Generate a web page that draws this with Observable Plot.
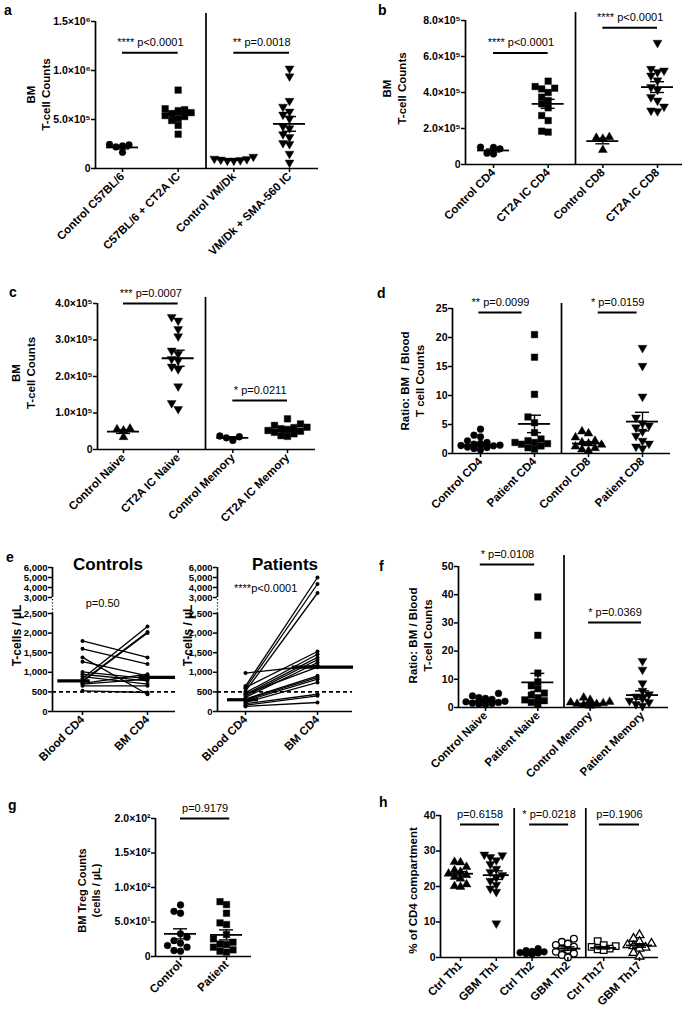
<!DOCTYPE html>
<html><head><meta charset="utf-8">
<script src="https://cdn.jsdelivr.net/npm/d3@7"></script>
<script src="https://cdn.jsdelivr.net/npm/@observablehq/plot@0.6"></script>
<style>
body{margin:0;background:#fff;}
#fig{position:relative;width:687px;height:1020px;overflow:hidden;font-family:"Liberation Sans",Arial,Helvetica,sans-serif;background:#fff;}
#fig svg{position:absolute;overflow:visible;}
.letter{position:absolute;font-weight:bold;font-size:14px;line-height:1;color:#000;}
</style></head><body><div id="fig"></div>
<script>
// ---------------- DATA ----------------
// Panel a
const aCats = ["Control C57BL/6", "C57BL/6 + CT2A IC", "Control VM/Dk", "VM/Dk + SMA-560 IC"];
const aValues = [
  [2.45e5, 2.4e5, 2.3e5, 2.2e5, 1.65e5],
  [8.0e5, 6.1e5, 6.0e5, 5.9e5, 5.7e5, 5.6e5, 5.4e5, 5.3e5, 5.1e5, 4.9e5, 4.4e5, 3.5e5],
  [1.2e5, 1.0e5, 0.95e5, 0.9e5, 0.85e5, 0.8e5, 0.8e5],
  [1.02e6, 0.94e6, 0.69e6, 0.63e6, 0.58e6, 0.55e6, 0.51e6, 0.43e6, 0.41e6, 0.35e6, 0.32e6, 0.26e6, 0.25e6, 0.15e6, 0.06e6]
];
const aMeans = [2.15e5, 5.55e5, 0.9e5, 4.55e5];
const aSems = [0.15e5, 0.3e5, 0.05e5, 0.75e5];
const aTicks = [0, 5e5, 1e6, 1.5e6];
const aTickLabels = ["0", "5.0×10⁵", "1.0×10⁶", "1.5×10⁶"];
const aSig = [{x1: 1, x2: 2, y: 1.18e6, label: "**** p<0.0001"}, {x1: 3, x2: 4, y: 1.18e6, label: "** p=0.0018"}];

// Panel b
const bCats = ["Control CD4", "CT2A IC CD4", "Control CD8", "CT2A IC CD8"];
const bValues = [
  [0.96e5, 0.95e5, 0.87e5, 0.63e5, 0.59e5],
  [4.63e5, 4.33e5, 4.24e5, 4.2e5, 4.0e5, 3.74e5, 3.55e5, 3.37e5, 3.15e5, 2.72e5, 2.44e5, 1.85e5, 1.8e5],
  [1.52e5, 1.48e5, 1.43e5, 0.81e5],
  [6.76e5, 5.31e5, 5.22e5, 5.13e5, 4.94e5, 4.67e5, 4.3e5, 4.15e5, 3.74e5, 3.55e5, 3.22e5, 3.0e5, 2.96e5]
];
const bMeans = [0.78e5, 3.37e5, 1.3e5, 4.3e5];
const bSems = [0.08e5, 0.25e5, 0.15e5, 0.3e5];
const bTicks = [0, 2e5, 4e5, 6e5, 8e5];
const bTickLabels = ["0", "2.0×10⁵", "4.0×10⁵", "6.0×10⁵", "8.0×10⁵"];
const bSig = [{x1: 1, x2: 2, y: 6.2e5, label: "**** p<0.0001"}, {x1: 3, x2: 4, y: 7.6e5, label: "**** p<0.0001"}];

// Panel c
const cCats = ["Control Naive", "CT2A IC Naive", "Control Memory", "CT2A IC Memory"];
const cValues = [
  [0.57e5, 0.55e5, 0.52e5, 0.34e5],
  [3.63e5, 3.53e5, 3.3e5, 3.1e5, 2.71e5, 2.62e5, 2.48e5, 2.44e5, 2.27e5, 2.2e5, 1.73e5, 1.27e5, 1.11e5],
  [0.37e5, 0.35e5, 0.32e5, 0.25e5],
  [0.84e5, 0.7e5, 0.66e5, 0.61e5, 0.6e5, 0.57e5, 0.55e5, 0.52e5, 0.5e5, 0.47e5, 0.43e5, 0.38e5, 0.36e5]
];
const cMeans = [0.49e5, 2.5e5, 0.32e5, 0.52e5];
const cSems = [0.05e5, 0.22e5, 0.03e5, 0.04e5];
const cTicks = [0, 1e5, 2e5, 3e5, 4e5];
const cTickLabels = ["0", "1.0×10⁵", "2.0×10⁵", "3.0×10⁵", "4.0×10⁵"];
const cSig = [{x1: 1, x2: 2, y: 4.0e5, label: "*** p=0.0007"}, {x1: 3, x2: 4, y: 1.34e5, label: "* p=0.0211"}];

// Panel d
const dCats = ["Control CD4", "Patient CD4", "Control CD8", "Patient CD8"];
const dValues = [
  [4.2, 3.16, 2.87, 2.18, 1.9, 1.72, 1.6, 1.5, 1.44, 1.38, 1.32, 1.03, 0.86, 0.63, 1.1],
  [20.5, 16.6, 10.2, 6.3, 5.3, 3.6, 2.5, 2.2, 1.9, 1.9, 1.7, 1.6, 1.3, 1.0, 0.75],
  [3.8, 3.45, 2.76, 2.18, 1.9, 1.72, 1.5, 1.2, 0.92, 0.69, 0.46],
  [18.2, 15.1, 9.8, 6.2, 5.2, 4.8, 4.5, 3.8, 3.05, 2.2, 1.7, 1.2, 0.9]
];
const dMeans = [1.44, 5.1, 1.72, 5.5];
const dSems = [0.25, 1.5, 0.3, 1.6];
const dTicks = [0, 5, 10, 15, 20, 25];
const dTickLabels = ["0", "5", "10", "15", "20", "25"];
const dSig = [{x1: 0.97, x2: 1.77, y: 24.3, label: "** p=0.0099"}, {x1: 3.18, x2: 3.9, y: 24.3, label: "* p=0.0159"}];

// Panel e (paired counts: blood CD4 -> BM CD4, cells/µL)
const eCats = ["Blood CD4", "BM CD4"];
const eControlBlood = [1800, 1600, 1380, 1270, 1010, 950, 890, 840, 780, 757, 720, 700, 655, 527];
const eControlBM    = [1380, 1210, 440, 910, 840, 780, 700, 2170, 2030, 2000, 950, 825, 655, 485];
const ePatientBlood = [980, 650, 590, 520, 610, 480, 440, 400, 360, 320, 300, 270, 230, 200, 160, 130, 450];
const ePatientBM    = [1180, 5000, 4350, 3450, 1530, 1460, 1380, 1320, 1250, 910, 870, 825, 740, 440, 400, 230, 1130];
const eControlCenters = [780, 870];
const ePatientCenters = [300, 1130];
const eThreshold = 500;
const eBreak = [0, 2500, 3000, 6000];
const eTicks = [0, 500, 1000, 1500, 2000, 2500, 3000, 4000, 5000, 6000];
const eTickLabels = ["0", "500", "1,000", "1,500", "2,000", "2,500", "3,000", "4,000", "5,000", "6,000"];

// Panel f
const fCats = ["Control Naive", "Patient Naive", "Control Memory", "Patient Memory"];
const fValues = [
  [5.0, 4.1, 3.5, 3.2, 2.9, 2.7, 2.4, 2.2, 2.0, 1.8, 1.5, 1.4, 1.2, 0.95],
  [39.2, 25.6, 12.2, 9.1, 7.7, 6.7, 5.1, 4.4, 3.5, 2.7, 2.4, 1.8, 1.2],
  [3.5, 2.7, 2.0, 1.8, 1.5, 1.3, 1.2, 0.95, 0.6],
  [16.5, 13.4, 8.6, 5.9, 4.7, 3.9, 3.2, 2.4, 1.8, 1.2, 0.6]
];
const fMeans = [2.1, 8.9, 1.4, 4.4];
const fSems = [0.3, 3.2, 0.3, 1.5];
const fTicks = [0, 10, 20, 30, 40, 50];
const fTickLabels = ["0", "10", "20", "30", "40", "50"];
const fSig = [{x1: 0.9, x2: 1.94, y: 50.7, label: "* p=0.0108"}, {x1: 2.97, x2: 3.98, y: 30.1, label: "* p=0.0369"}];

// Panel g
const gCats = ["Control", "Patient"];
const gValues = [
  [74.7, 65.5, 62.7, 32.8, 28, 23, 19.3, 15.9, 13.5, 8.7, 7.7],
  [79.5, 75.2, 62.7, 48.7, 46.3, 31.8, 25.5, 20.7, 18, 17.3, 13.5, 9.6, 7.7, 6.3]
];
const gMeans = [32.8, 31.3];
const gSems = [7.3, 7.3];
const gTicks = [0, 50, 100, 150, 200];
const gTickLabels = ["0", "5.0×10¹", "1.0×10²", "1.5×10²", "2.0×10²"];
const gSig = [{x1: 1, x2: 2.07, y: 200, label: "p=0.9179"}];

// Panel h
const hCats = ["Ctrl Th1", "GBM Th1", "Ctrl Th2", "GBM Th2", "Ctrl Th17", "GBM Th17"];
const hValues = [
  [26.9, 26.8, 25.5, 24.6, 24.1, 23.6, 23.2, 22.7, 22.2, 20.6, 20.1, 19.9],
  [29.0, 28.8, 28.3, 27.4, 26.3, 25.0, 24.1, 23.2, 22.5, 21.6, 20.5, 19.4, 18.5, 9.6],
  [2.5, 1.9, 1.7, 1.6, 1.4, 1.3, 1.1, 0.9],
  [5.3, 4.4, 3.9, 3.5, 3.0, 2.5, 2.1, 1.6, 1.1, 0.7, 0],
  [4.6, 3.5, 3.2, 3.0, 2.5, 2.3, 2.1],
  [6.3, 5.3, 4.4, 3.9, 3.5, 3.2, 2.8, 2.5, 1.3, 0.3]
];
const hMeans = [23.6, 23.2, 1.3, 2.5, 2.7, 3.4];
const hSems = [0.6, 1.2, 0.15, 0.5, 0.3, 0.5];
const hTicks = [0, 10, 20, 30, 40];
const hTickLabels = ["0", "10", "20", "30", "40"];
const hSig = [
  {x1: 1, x2: 2.09, y: 37.5, label: "p=0.6158"},
  {x1: 2.93, x2: 4.02, y: 37.5, label: "* p=0.0218"},
  {x1: 4.88, x2: 6.0, y: 37.5, label: "p=0.1906"}
];

// ---------------- HELPERS ----------------
const FONT = '"Liberation Sans", Arial, Helvetica, sans-serif';
const NARROW = '"Liberation Sans Narrow", "Arial Narrow", "Liberation Sans", Arial, sans-serif';
const fig = document.getElementById("fig");
const S3 = Math.sqrt(3);
const triangleDown = {
  draw(ctx, size) {
    const y = -Math.sqrt(size / (S3 * 3));
    ctx.moveTo(0, -y * 2);
    ctx.lineTo(-S3 * y, y);
    ctx.lineTo(S3 * y, y);
    ctx.closePath();
  }
};
const SYM = {circle: "circle", square: "square", up: "triangle", down: triangleDown};
const RAD = {circle: 3.4, square: 3.7, up: 3.3, down: 3.3};

// deterministic column-scatter layout: points with close values spread sideways (limited width)
function spread(vals, tol, step, maxK) {
  const order = vals.map((v, i) => i).sort((a, b) => vals[a] - vals[b]);
  const off = new Array(vals.length).fill(0);
  const placed = [];
  const cands = [0];
  for (let k = 1; k <= maxK; k++) cands.push(-k * step, k * step);
  for (const i of order) {
    let best = 0, bestScore = Infinity;
    for (const c of cands) {
      const score = placed.filter(j => Math.abs(vals[j] - vals[i]) < tol && Math.abs(off[j] - c) < step * 0.95).length;
      if (score < bestScore) { bestScore = score; best = c; }
      if (score === 0) break;
    }
    off[i] = best;
    placed.push(i);
  }
  return off;
}

function place(svg, box) {
  svg.style.left = box.x + "px";
  svg.style.top = box.y + "px";
  fig.appendChild(svg);
}

function letter(ch, x, y) {
  const d = document.createElement("div");
  d.className = "letter";
  d.textContent = ch;
  d.style.left = x + "px";
  d.style.top = y + "px";
  fig.appendChild(d);
}

const STYLE = {fontFamily: FONT, fontSize: "10px", background: "transparent", overflow: "visible", color: "black"};

function scatterPanel(cfg) {
  const {box, frame, cats, values, means, sems, ticks, tickLabels, topTickPx, catPx, syms, sigs, dividers, divTopPx, ytitle, titleDx, titleDy} = cfg;
  const n = cats.length;
  const sp = (catPx[1] - catPx[0]) / (n - 1);
  const xDomain = [1 - (catPx[0] - frame.left) / sp, n + (frame.right - catPx[1]) / sp];
  const topTick = ticks[ticks.length - 1];
  const pxY = (frame.bottom - topTickPx) / topTick;
  const yDomain = [0, (frame.bottom - frame.top) / pxY];
  const divTop = (frame.bottom - divTopPx) / pxY;
  const stepPx = cfg.stepPx || 6.5;
  const tol = 6.2 / pxY, step = stepPx / sp;
  const maxK = Math.floor((cfg.maxHalfPx || 22) / stepPx);
  const rows = [];
  values.forEach((vals, g) => {
    const off = spread(vals, tol, step, maxK);
    vals.forEach((v, k) => rows.push({g, x: g + 1 + off[k], y: v}));
  });
  const stats = means.map((m, i) => ({i: i + 1, m, s: sems[i]}));
  const mw = (cfg.meanHalfPx || 16) / sp, cw = 7 / sp;
  const labelMap = new Map(ticks.map((t, i) => [t, tickLabels[i]]));
  const marks = [];
  marks.push(Plot.ruleX([xDomain[0]], {y1: 0, y2: topTick, strokeWidth: 1.7}));
  marks.push(Plot.ruleY([0], {x1: xDomain[0], x2: xDomain[1], strokeWidth: 1.7}));
  if (dividers.length) marks.push(Plot.ruleX(dividers, {y1: 0, y2: divTop, strokeWidth: 1.7}));
  syms.forEach((s, g) => {
    const open = s.endsWith("-open");
    const shape = s.replace("-open", "");
    marks.push(Plot.dot(rows.filter(r => r.g === g), {
      x: "x", y: "y", symbol: SYM[shape], r: RAD[shape] * (cfg.rScale || 1),
      fill: open ? "white" : "black", stroke: "black", strokeWidth: open ? 1.3 : 0.4
    }));
  });
  marks.push(Plot.ruleY(stats, {y: "m", x1: d => d.i - mw, x2: d => d.i + mw, strokeWidth: 1.8}));
  marks.push(Plot.ruleX(stats, {x: "i", y1: d => d.m - d.s, y2: d => d.m + d.s, strokeWidth: 1.4}));
  marks.push(Plot.ruleY(stats, {y: d => d.m + d.s, x1: d => d.i - cw, x2: d => d.i + cw, strokeWidth: 1.4}));
  marks.push(Plot.ruleY(stats, {y: d => Math.max(0, d.m - d.s), x1: d => d.i - cw, x2: d => d.i + cw, strokeWidth: 1.4}));
  marks.push(Plot.ruleY(sigs, {x1: "x1", x2: "x2", y: "y", strokeWidth: 2}));
  marks.push(Plot.text(sigs, {x: d => (d.x1 + d.x2) / 2, y: "y", text: "label", dy: -10, fontSize: 11, fontWeight: "normal"}));
  marks.push(Plot.axisY(ticks, {tickFormat: d => labelMap.get(d), tickSize: 4, tickPadding: 1, fontSize: 10.5, fontWeight: "bold", strokeWidth: 1.5, label: null}));
  marks.push(Plot.axisX(d3.range(1, n + 1), {tickFormat: d => cats[d - 1], tickRotate: -45, tickSize: 4, tickPadding: 2, fontSize: cfg.xFont || 11.5, fontWeight: "bold", strokeWidth: 1.5, label: null}));
  marks.push(Plot.text([ytitle], {text: d => d, frameAnchor: "left", textAnchor: "middle", dx: titleDx, dy: titleDy, rotate: -90, fontSize: cfg.titleFont || 11.5, fontWeight: "bold", lineHeight: 1.3}));
  const svg = Plot.plot({
    width: box.w, height: box.h,
    marginLeft: frame.left - box.x, marginRight: box.x + box.w - frame.right,
    marginTop: frame.top - box.y, marginBottom: box.y + box.h - frame.bottom,
    x: {domain: xDomain, label: null},
    y: {domain: yDomain, label: null},
    style: STYLE,
    marks
  });
  place(svg, box);
}

function pairedPanel(cfg) {
  const {box, frame, catPx, blood, bm, centers, centerSpans, title, ptext, ptextAt, titleDx, titleDy, titleShift} = cfg;
  const sp = catPx[1] - catPx[0];
  const xDomain = [1 - (catPx[0] - frame.left) / sp, 2 + (frame.right - catPx[1]) / sp];
  // broken (segmented) value axis: 0–2500 stretched, 3000–6000 compressed
  const brk = d3.scaleLinear().domain(eBreak).range(cfg.yPx.map(v => cfg.yPx[0] - v));
  const yMax = brk(eBreak[eBreak.length - 1]);
  const pairs = blood.map((b, i) => ({b: brk(b), m: brk(bm[i])}));
  const labelMap = new Map(eTicks.map((t, i) => [brk(t), eTickLabels[i]]));
  const cRows = centers.map((v, i) => ({v: brk(v), x1: centerSpans[i][0], x2: centerSpans[i][1]}));
  const marks = [
    Plot.ruleX([{a: 0, b: brk(2500)}, {a: brk(3000), b: yMax}], {x: () => xDomain[0], y1: "a", y2: "b", strokeWidth: 1.7}),
    Plot.ruleX([{a: brk(2500), b: brk(3000)}], {x: () => xDomain[0], y1: "a", y2: "b", strokeWidth: 1.2, strokeDasharray: "1.2,2"}),
    Plot.ruleY([0], {x1: xDomain[0], x2: xDomain[1], strokeWidth: 1.7}),
    Plot.ruleY([brk(eThreshold)], {x1: xDomain[0], x2: xDomain[1], strokeWidth: 1.6, strokeDasharray: "4,3"}),
    Plot.link(pairs, {x1: () => 1, y1: "b", x2: () => 2, y2: "m", strokeWidth: 1.3}),
    Plot.dot(pairs, {x: () => 1, y: "b", r: 2, fill: "black"}),
    Plot.dot(pairs, {x: () => 2, y: "m", r: 2, fill: "black"}),
    Plot.ruleY(cRows, {y: "v", x1: "x1", x2: "x2", strokeWidth: 3.2}),
    Plot.text([title], {text: d => d, frameAnchor: "top", dx: titleShift, dy: -10, fontSize: 17, fontWeight: "bold"}),
    Plot.text([ptext], {text: d => d, x: () => ptextAt[0], y: () => brk(ptextAt[1]), fontSize: 11, fontWeight: "normal"}),
    Plot.axisY([...labelMap.keys()], {tickFormat: d => labelMap.get(d), tickSize: 4, tickPadding: 1, fontSize: 9.5, fontFamily: NARROW, fontWeight: "bold", strokeWidth: 1.5, label: null}),
    Plot.axisX([1, 2], {tickFormat: d => eCats[d - 1], tickRotate: -45, tickSize: 4, tickPadding: 2, fontSize: 11.5, fontWeight: "bold", strokeWidth: 1.5, label: null}),
    Plot.text(["T-cells / µL"], {text: d => d, frameAnchor: "left", textAnchor: "middle", dx: titleDx, dy: titleDy, rotate: -90, fontSize: 12, fontWeight: "bold"})
  ];
  const svg = Plot.plot({
    width: box.w, height: box.h,
    marginLeft: frame.left - box.x, marginRight: box.x + box.w - frame.right,
    marginTop: frame.top - box.y, marginBottom: box.y + box.h - frame.bottom,
    x: {domain: xDomain, label: null},
    y: {domain: [0, yMax], label: null},
    style: STYLE,
    marks
  });
  place(svg, box);
}

// ---------------- PANELS ----------------
scatterPanel({
  box: {x: 0, y: 0, w: 340, h: 260}, frame: {left: 95, right: 318, top: 8, bottom: 168},
  cats: aCats, values: aValues, means: aMeans, sems: aSems, ticks: aTicks, tickLabels: aTickLabels,
  topTickPx: 21, catPx: [122, 289], syms: ["circle", "square", "down", "down"], sigs: aSig,
  dividers: [2.5], divTopPx: 13, ytitle: "BM\nT-cell Counts", titleDx: -58, titleDy: 6
});
scatterPanel({
  box: {x: 340, y: 0, w: 347, h: 260}, frame: {left: 465, right: 682, top: 8, bottom: 164},
  cats: bCats, values: bValues, means: bMeans, sems: bSems, ticks: bTicks, tickLabels: bTickLabels,
  topTickPx: 20, catPx: [493, 657], syms: ["circle", "square", "up", "down"], sigs: bSig,
  dividers: [2.5], divTopPx: 12, ytitle: "BM\nT-cell Counts", titleDx: -72, titleDy: 2
});
scatterPanel({
  box: {x: 0, y: 260, w: 340, h: 250}, frame: {left: 97, right: 315, top: 290, bottom: 449},
  cats: cCats, values: cValues, means: cMeans, sems: cSems, ticks: cTicks, tickLabels: cTickLabels,
  topTickPx: 303, catPx: [123, 287], syms: ["up", "down", "circle", "square"], sigs: cSig,
  dividers: [2.5], divTopPx: 297, ytitle: "BM\nT-cell Counts", titleDx: -75, titleDy: 3
});
scatterPanel({
  box: {x: 340, y: 260, w: 347, h: 250}, frame: {left: 452, right: 670, top: 294, bottom: 453},
  cats: dCats, values: dValues, means: dMeans, sems: dSems, ticks: dTicks, tickLabels: dTickLabels,
  topTickPx: 308, catPx: [480, 642], syms: ["circle", "square", "up", "down"], sigs: dSig,
  dividers: [2.5], divTopPx: 303, ytitle: "Ratio: BM  / Blood\nT cell Counts", titleDx: -41, titleDy: 7
});
pairedPanel({
  box: {x: 0, y: 505, w: 190, h: 255}, frame: {left: 52, right: 175, top: 567, bottom: 711},
  catPx: [82, 147], yPx: [711, 613, 597, 567], blood: eControlBlood, bm: eControlBM,
  centers: eControlCenters, centerSpans: [[0.62, 1.12], [1.87, 2.43]],
  title: "Controls", titleShift: -6, ptext: "p=0.50", ptextAt: [1.31, 2800], titleDx: -35, titleDy: -4
});
pairedPanel({
  box: {x: 180, y: 505, w: 180, h: 255}, frame: {left: 217, right: 352, top: 567, bottom: 711},
  catPx: [245, 317], yPx: [711, 613, 597, 567], blood: ePatientBlood, bm: ePatientBM,
  centers: ePatientCenters, centerSpans: [[0.75, 1.18], [1.65, 2.5]],
  title: "Patients", titleShift: 0, ptext: "****p<0.0001", ptextAt: [1.28, 3900], titleDx: -29, titleDy: -4
});
scatterPanel({
  box: {x: 340, y: 505, w: 347, h: 255}, frame: {left: 458, right: 668, top: 545, bottom: 707},
  cats: fCats, values: fValues, means: fMeans, sems: fSems, ticks: fTicks, tickLabels: fTickLabels,
  topTickPx: 566, catPx: [485, 642], syms: ["circle", "square", "up", "down"], sigs: fSig,
  dividers: [2.5], divTopPx: 555, ytitle: "Ratio: BM / Blood\nT-cell Counts", titleDx: -39, titleDy: 9
});
scatterPanel({
  box: {x: 0, y: 760, w: 340, h: 260}, frame: {left: 155, right: 251, top: 798, bottom: 956},
  cats: gCats, values: gValues, means: gMeans, sems: gSems, ticks: gTicks, tickLabels: gTickLabels,
  topTickPx: 818, catPx: [180, 226], syms: ["circle", "square"], sigs: gSig,
  dividers: [], divTopPx: 818, ytitle: "BM Treg Counts\n(cells / µL)", titleDx: -67, titleDy: 13, titleFont: 11,
  maxHalfPx: 16
});
scatterPanel({
  box: {x: 340, y: 760, w: 347, h: 260}, frame: {left: 440, right: 658, top: 803, bottom: 957},
  cats: hCats, values: hValues, means: hMeans, sems: hSems, ticks: hTicks, tickLabels: hTickLabels,
  topTickPx: 815, catPx: [460, 639], syms: ["up", "down", "circle", "circle-open", "square-open", "up-open"], sigs: hSig,
  dividers: [2.5, 4.5], divTopPx: 808, ytitle: "% of CD4 compartment", titleDx: -28, titleDy: 10,
  meanHalfPx: 13, stepPx: 6, maxHalfPx: 14
});

letter("a", 4, 3);
letter("b", 378, 3);
letter("c", 9, 285);
letter("d", 377, 286);
letter("e", 6, 550);
letter("f", 379, 559);
letter("g", 8, 798);
letter("h", 379, 795);
</script>
</body></html>
